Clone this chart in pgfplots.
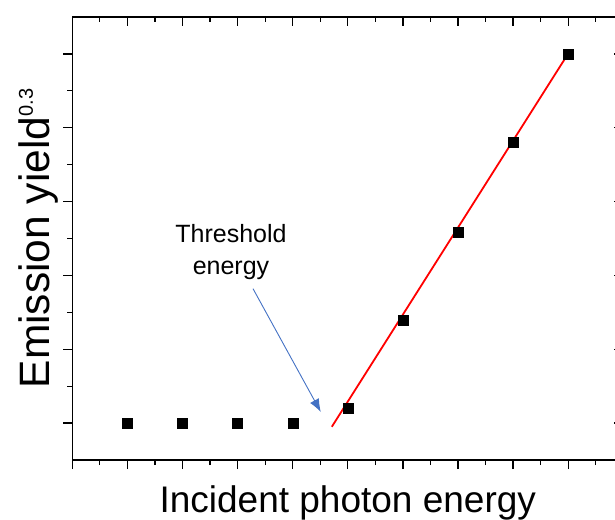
\documentclass[border=0pt]{standalone}
\usepackage{fontspec}
\setmainfont{Liberation Sans}
\usepackage{pgfplots}
\pgfplotsset{compat=1.18}
\usetikzlibrary{arrows.meta}
\definecolor{arrowblue}{RGB}{68,114,196}

\begin{document}
\begin{tikzpicture}
\pgfplotsset{
  common/.style={
    scale only axis,
    width=551pt, height=443pt,
    at={(0,0)}, anchor=south west,
    xmin=0, xmax=10, ymin=0, ymax=6,
    xtick={0,1,...,10}, minor x tick num=1,
    ytick={0.5,1.5,2.5,3.5,4.5,5.5}, minor ytick={1,2,3,4,5},
    xticklabels={}, yticklabels={},
    major tick length=9pt, minor tick length=5pt,
    axis line style={line width=1.3pt, black},
    every tick/.style={line width=1.3pt, black},
    clip=false,
  }
}
% top and right: ticks inside
\begin{axis}[common, xtick pos=top, ytick pos=right, tick align=inside]
\end{axis}
% bottom and left: ticks outside, data
\begin{axis}[common, xtick pos=bottom, ytick pos=left, tick align=outside,
    xlabel={\fontsize{37}{44}\selectfont Incident photon energy},
    xlabel style={at={(axis description cs:0.5,-0.1174)}, anchor=base},
    ylabel={\fontsize{42.5}{50}\selectfont Emission yield\raisebox{17pt}{\fontsize{20}{20}\selectfont 0.3}},
    ylabel style={at={(axis description cs:-0.0405,0.5)}, anchor=base},
  ]
\addplot[only marks, mark=square*, mark size=5pt, black]
  coordinates {(1,0.5) (2,0.5) (3,0.5) (4,0.5) (5,0.70) (6,1.89) (7,3.09) (8,4.30) (9,5.5)};
\addplot[red, line width=1.8pt] coordinates {(4.71,0.45) (9.03,5.54)};
\draw[arrowblue, line width=0.9pt, -{Latex[length=13pt,width=10pt]}]
  (axis cs:3.28,2.32) -- (axis cs:4.51,0.65);
\node[align=center, font=\fontsize{25}{32}\selectfont]
  at (axis cs:2.88,2.81) {Threshold\\energy};
\end{axis}
\pgfresetboundingbox
\path[use as bounding box] (-72.3pt,-59pt) rectangle (542.7pt,460pt);
\end{tikzpicture}
\end{document}
